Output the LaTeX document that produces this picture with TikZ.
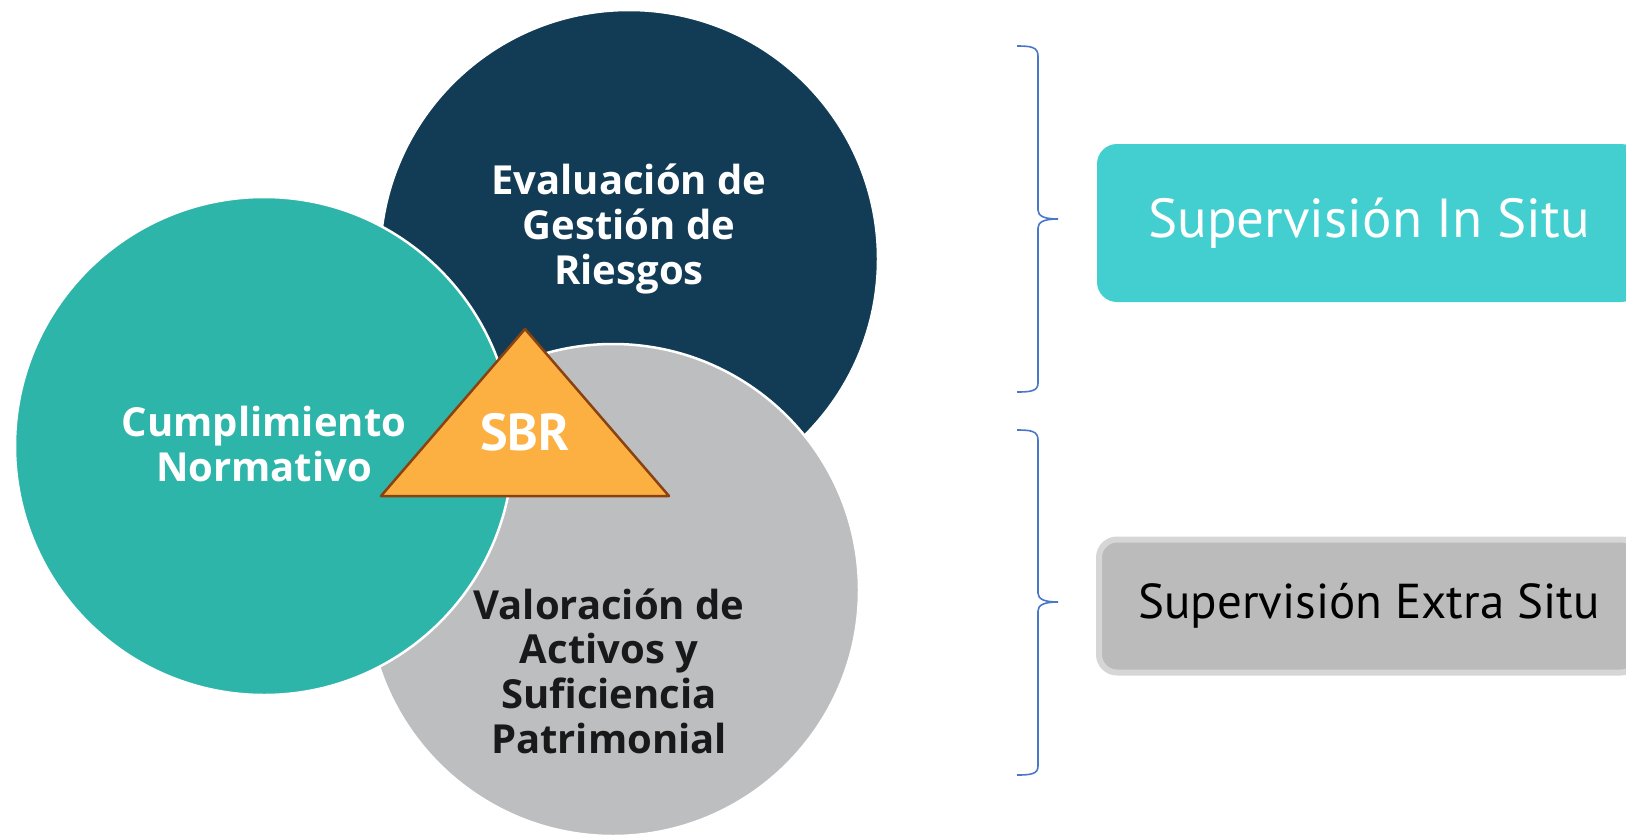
\documentclass[tikz,border=0pt]{standalone}
\usepackage{fontspec}
\setmainfont{PT Sans}
\newfontfamily\circfont{Open Sans}
\usepackage{xcolor}
\definecolor{navy}{HTML}{123B55}
\definecolor{teal}{HTML}{2EB5AA}
\definecolor{greyc}{HTML}{BDBEC0}
\definecolor{orangetri}{HTML}{FBB041}
\definecolor{browntri}{HTML}{8A4211}
\definecolor{aqua}{HTML}{43CFCF}
\definecolor{greybox}{HTML}{BBBBBB}
\definecolor{greyline}{HTML}{D6D6D6}
\definecolor{bracecol}{HTML}{4A78C8}
\usetikzlibrary{positioning}

\begin{document}
\begin{tikzpicture}[x=1pt, y=-1pt,
    bigcircle/.style={circle, draw=white, line width=2.5pt, inner sep=0pt, minimum size=498pt},
    circtext/.style={align=center, font=\circfont\bfseries\fontsize{40}{44.6}\selectfont},
    llave/.style={draw=bracecol, line width=1.6pt}]
      \clip (0,0) rectangle (1626,838);
      % Circles
      \node[bigcircle, fill=navy] (riesgos) at (629,259) {};
      \node[bigcircle, fill=greyc, minimum size=492pt] (activos) at (613,590) {};
      \node[bigcircle, fill=teal] (normativo) at (264,446) {};
      \node[circtext, text=white] (riesgostxt) at (629,229) {Evaluación de\\Gestión de\\Riesgos};
      \node[circtext, text=white] (normativotxt) at (264,444) {Cumplimiento\\Normativo};
      \node[circtext, text=black!90] (activostxt) at (609,671) {Valoración de\\Activos y\\Suficiencia\\Patrimonial};
      
      % Triangle
      \draw[fill=orangetri, draw=browntri, line width=2.5pt, line join=round] (525,329) -- (381,496) -- (669,496) -- cycle;
      \node[text=white, font=\bfseries\fontsize{52}{58}\selectfont] (sbr) at (525,432) {SBR};
      
      % Braces
      \draw[llave] (1017,46) .. controls (1031,46) and (1038,47) .. (1038,56) -- (1038,210)
        .. controls (1038,216) and (1044,219) .. (1058,219) .. controls (1044,219) and (1038,222) .. (1038,228)
        -- (1038,383) .. controls (1038,391) and (1031,392) .. (1017,392);
      \draw[llave] (1017,430) .. controls (1031,430) and (1038,431) .. (1038,440) -- (1038,593)
        .. controls (1038,599) and (1044,602) .. (1058,602) .. controls (1044,602) and (1038,605) .. (1038,611)
        -- (1038,766) .. controls (1038,774) and (1031,775) .. (1017,775);
      
      % Boxes
      \node[fill=aqua, rounded corners=20pt, minimum width=544pt, minimum height=158pt, text=white, font=\fontsize{55}{60}\selectfont] (insitu) at (1369,223) {Supervisión In Situ};
      \node[fill=greybox, draw=greyline, line width=6pt, rounded corners=18pt, minimum width=540pt, minimum height=133pt, text=black, font=\fontsize{49}{54}\selectfont] (extrasitu) at (1369,606) {Supervisión Extra Situ};
    \end{tikzpicture}
\end{document}
